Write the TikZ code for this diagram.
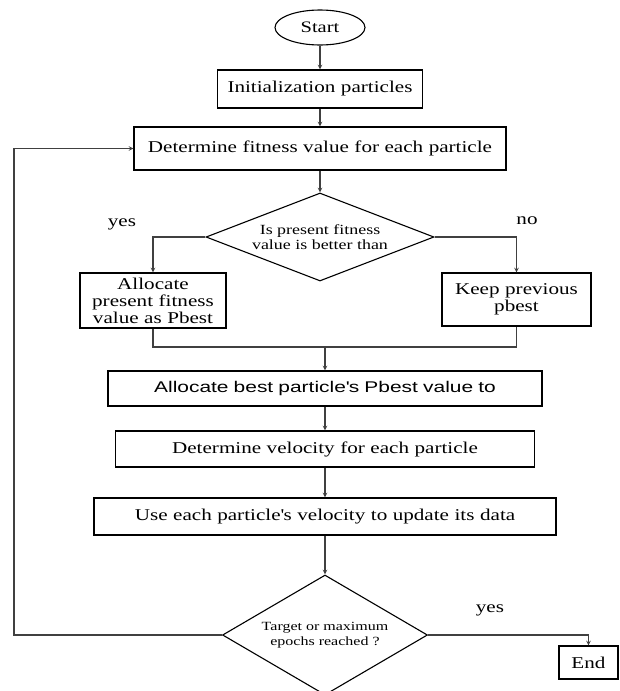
\documentclass[tikz,border=0pt]{standalone}
\usepackage{fontspec}
\setmainfont{Liberation Serif}[FakeStretch=1.28]
\newfontfamily\sansbox{Liberation Sans}[FakeStretch=1.35]
\usetikzlibrary{shapes.geometric}

\begin{document}
\begin{tikzpicture}[x=1pt, y=-1pt, node distance=60pt, auto, line width=1.1pt]
    \tikzstyle{startstop} = [ellipse, draw, minimum width=90pt, minimum height=35pt, inner sep=0pt, font=\fontsize{16}{17}\selectfont]
    \tikzstyle{process} = [rectangle, draw, inner sep=0pt, text centered, font=\fontsize{16.5}{17}\selectfont]
    \tikzstyle{decision} = [diamond, draw, inner sep=0pt, align=center, font=\fontsize{14}{14.5}\selectfont]
    \tikzstyle{lbl} = [font=\fontsize{16.5}{17}\selectfont]
    \tikzstyle{arrow} = [draw=black!75, ->, >=stealth]
    \tikzstyle{line} = [draw=black!75]

    \useasboundingbox (0,0) rectangle (620,691);
    \clip (0,0) rectangle (620,691);

    % Start and initialization
    \node [startstop] (start) at (320,27.5) {Start};
    \node [process, below of=start, node distance=61.5pt, text width=205pt, minimum height=38pt] (init) {Initialization particles};
    \node [process, below of=init, node distance=59.5pt, text width=372pt, minimum height=43pt] (fitness) {Determine fitness value for each particle};

    % Pbest check
    \node [decision, below of=fitness, node distance=88.5pt, minimum width=228pt, minimum height=88pt, aspect=2.6] (better) {Is present fitness\\value is better than};
    \node [process, below of=better, node distance=63.5pt, xshift=-167pt, text width=146pt, minimum height=55pt] (setpbest) {Allocate\\present fitness\\value as Pbest};
    \node [process, below of=better, node distance=62.5pt, xshift=196.5pt, text width=149pt, minimum height=53pt] (keeppbest) {Keep previous\\pbest};
    \node [lbl, left of=better, node distance=198pt, yshift=13pt] (yesA) {yes};
    \node [lbl, right of=better, node distance=207pt, yshift=16pt] (noA) {no};

    % Gbest and update
    \node [process, font=\sansbox\fontsize{15.5}{17}\selectfont, below of=better, node distance=151.5pt, xshift=5pt, text width=434pt, minimum height=35pt] (gbest) {Allocate best particle\textquotesingle s Pbest value to};
    \node [process, below of=gbest, node distance=60.5pt, text width=419pt, minimum height=36pt] (velocity) {Determine velocity for each particle};
    \node [process, below of=velocity, node distance=67.5pt, text width=462pt, minimum height=37pt] (update) {Use each particle\textquotesingle s velocity to update its data};

    % Stop check
    \node [decision, font=\fontsize{12.5}{14.5}\selectfont, below of=update, node distance=118.5pt, minimum width=205pt, minimum height=120pt, aspect=1.7] (target) {Target or maximum\\epochs reached ?};
    \node [process, right of=target, node distance=263.5pt, yshift=-27.5pt, text width=59pt, minimum height=33pt] (end) {End};
    \node [lbl, right of=target, node distance=165pt, yshift=25pt] (yesB) {yes};

    % Connections
    \draw [arrow] (start) -- (init);
    \draw [arrow] (init) -- (fitness);
    \draw [arrow] (fitness) -- (better);
    \draw [arrow] (better.west) -| (setpbest.north);
    \draw [arrow] (better.east) -| (keeppbest.north);
    \coordinate [above of=gbest, node distance=41.5pt] (merge);
    \draw [line] (setpbest.south) |- (merge) -| (keeppbest.south);
    \draw [arrow] (merge) -- (gbest);
    \draw [arrow] (gbest) -- (velocity);
    \draw [arrow] (velocity) -- (update);
    \draw [arrow] (update) -- (target);
    \draw [arrow] (target.east) -| (end.north);
    \draw [arrow] (target.west) -- ++(-208,0) |- (fitness.west);
\end{tikzpicture}
\end{document}
